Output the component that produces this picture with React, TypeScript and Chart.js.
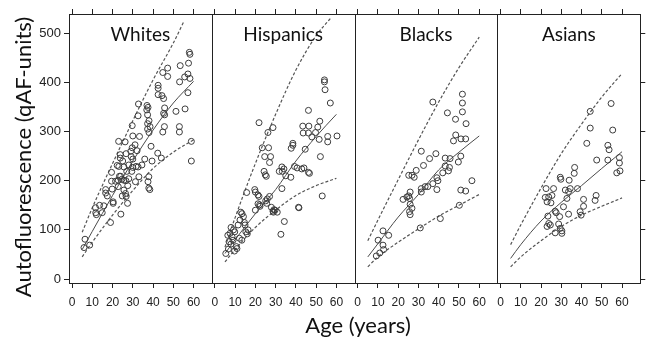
import React, { useEffect, useRef } from "react";
import { Chart, registerables } from "chart.js";

Chart.register(...registerables);

const GROUPS = ["Whites", "Hispanics", "Blacks", "Asians"];
const X_TICKS = [0, 10, 20, 30, 40, 50, 60];
const Y_TICKS = [0, 100, 200, 300, 400, 500];
const Y_TITLE = "Autofluorescence (qAF-units)";
const X_TITLE = "Age (years)";

const WHITES_AGE = [57.9, 58.2, 57.5, 53.4, 47.2, 44.8, 47.2, 57.2, 55.6, 58.2, 53.1, 42.5, 42.5, 42.5, 44.4, 45.2, 45.7, 57.2, 55.8, 51.3, 45.2, 45.7, 32.8, 37.0, 37.5, 36.9, 32.6, 37.3, 38.0, 37.3, 38.5, 37.3, 38.0, 45.6, 53.0, 53.0, 44.8, 29.7, 33.3, 30.0, 23.0, 26.2, 39.0, 42.3, 44.1, 58.9, 58.9, 39.5, 35.9, 31.1, 29.7, 32.1, 29.2, 30.0, 26.7, 23.8, 23.8, 25.0, 22.3, 23.1, 25.6, 28.0, 30.0, 32.6, 19.5, 24.0, 24.6, 25.6, 26.6, 28.0, 31.3, 33.0, 37.9, 37.5, 38.4, 19.5, 21.5, 22.8, 16.6, 16.6, 17.4, 19.8, 22.8, 25.6, 26.4, 24.8, 27.4, 20.3, 20.3, 15.7, 13.6, 11.6, 11.7, 14.9, 12.0, 24.1, 19.0, 6.4, 5.9, 8.7, 29.5, 31.6, 23.4, 26.7, 37.9, 27.0, 29.0, 34.5, 27.5];
const WHITES_QAF = [461, 457, 439, 434, 429, 420, 412, 417, 411, 408, 401, 394, 388, 375, 373, 367, 348, 379, 346, 341, 337, 334, 356, 353, 349, 344, 332, 334, 322, 316, 310, 305, 298, 310, 310, 299, 299, 312, 290, 291, 280, 279, 270, 256, 246, 280, 240, 240, 244, 273, 267, 261, 249, 244, 255, 253, 246, 240, 231, 229, 228, 232, 227, 228, 217, 209, 203, 201, 200, 204, 198, 208, 208, 198, 182, 199, 199, 201, 182, 175, 169, 183, 188, 181, 174, 169, 154, 154, 157, 149, 150, 145, 135, 135, 131, 132, 115, 81, 64, 69, 219, 229, 209, 168, 185, 219, 260, 232, 190];

const HISP_AGE = [54.1, 54.1, 54.4, 57.0, 46.2, 21.8, 28.7, 26.2, 43.4, 46.4, 51.8, 43.6, 46.2, 50.8, 49.7, 47.9, 55.7, 60.3, 51.5, 55.7, 44.6, 38.5, 38.5, 37.7, 23.4, 26.5, 24.6, 27.5, 27.0, 24.3, 24.9, 25.4, 33.1, 34.1, 33.3, 31.8, 35.0, 37.5, 39.3, 40.6, 42.9, 44.0, 46.2, 46.7, 52.1, 53.0, 41.3, 33.1, 34.3, 32.6, 15.7, 19.7, 20.0, 21.8, 21.3, 21.3, 22.1, 25.1, 25.9, 27.0, 27.9, 29.2, 28.7, 30.8, 20.0, 12.8, 13.4, 5.4, 6.7, 6.4, 7.5, 8.5, 9.2, 9.8, 7.0, 7.9, 9.0, 10.6, 10.9, 9.7, 12.1, 13.3, 12.4, 14.1, 14.6, 14.9, 15.3, 16.4, 16.0, 22.3, 25.6, 28.9, 29.7, 41.5, 8.0, 11.5];
const HISP_QAF = [405, 401, 385, 358, 343, 318, 308, 298, 311, 311, 321, 297, 297, 309, 298, 289, 290, 291, 284, 279, 264, 276, 272, 266, 267, 267, 249, 249, 237, 219, 212, 209, 228, 224, 219, 219, 210, 207, 229, 226, 224, 226, 217, 215, 249, 169, 146, 184, 117, 91, 176, 182, 177, 168, 171, 153, 151, 159, 163, 168, 146, 141, 138, 136, 140, 136, 133, 52, 61, 89, 93, 86, 100, 96, 76, 71, 79, 66, 62, 57, 83, 79, 120, 127, 115, 110, 96, 100, 92, 148, 154, 136, 140, 145, 105, 110];

const BLACKS_AGE = [51.7, 51.7, 51.7, 44.3, 48.3, 53.5, 37.1, 48.4, 47.3, 51.0, 53.3, 31.4, 38.6, 35.5, 43.2, 45.6, 43.2, 45.3, 50.9, 49.7, 32.5, 28.9, 25.2, 26.8, 27.9, 42.0, 44.8, 39.1, 37.1, 34.6, 33.3, 31.4, 31.4, 39.6, 39.1, 56.4, 50.9, 53.3, 50.2, 22.4, 24.3, 25.2, 25.6, 25.9, 25.9, 26.8, 25.6, 25.9, 40.8, 30.9, 12.5, 15.3, 10.1, 12.5, 12.8, 10.9, 9.2];
const BLACKS_QAF = [376, 358, 340, 338, 325, 316, 360, 293, 281, 285, 285, 260, 255, 245, 246, 245, 230, 227, 250, 238, 231, 221, 211, 211, 207, 216, 220, 206, 194, 188, 188, 184, 177, 200, 182, 200, 181, 179, 150, 162, 167, 169, 164, 177, 152, 144, 137, 131, 123, 104, 98, 89, 79, 69, 60, 53, 47];

const ASIANS_AGE = [54.6, 44.3, 44.3, 55.4, 42.6, 53.0, 53.6, 47.5, 53.0, 58.7, 58.7, 57.4, 59.0, 36.6, 36.4, 29.5, 29.8, 33.9, 22.5, 26.2, 32.0, 34.4, 33.6, 38.0, 22.1, 25.4, 23.8, 23.0, 24.9, 32.8, 41.0, 47.2, 46.7, 31.1, 41.0, 27.0, 27.5, 39.3, 39.8, 23.4, 29.2, 33.6, 23.8, 24.6, 23.0, 28.7, 29.5, 27.0, 30.3, 30.3];
const ASIANS_QAF = [357, 341, 307, 303, 276, 272, 263, 242, 242, 247, 236, 216, 220, 227, 215, 207, 203, 201, 184, 184, 181, 184, 178, 184, 166, 170, 167, 157, 155, 164, 162, 170, 160, 147, 148, 138, 135, 137, 130, 128, 127, 132, 113, 110, 107, 112, 103, 94, 98, 93];

const CURVE_AGE = [5, 10, 20, 30, 40, 50, 60];
const WHITES_MID = [60, 97, 170, 240, 303, 358, 402];
const WHITES_LOW = [45, 75, 130, 180, 225, 258, 283];
const WHITES_HIGH_AGE = [5, 10, 20, 30, 40, 50, 55];
const WHITES_HIGH = [95, 145, 235, 322, 405, 480, 522];
const HISP_MID = [52, 80, 133, 182, 240, 290, 335];
const HISP_LOW = [35, 60, 105, 140, 170, 190, 205];
const HISP_HIGH_AGE = [5, 10, 20, 30, 40, 50, 57];
const HISP_HIGH = [65, 125, 235, 335, 425, 495, 530];
const BLACKS_MID = [45, 72, 126, 172, 222, 258, 291];
const BLACKS_LOW = [25, 45, 75, 102, 128, 150, 172];
const BLACKS_HIGH = [78, 120, 202, 283, 360, 430, 492];
const ASIANS_MID = [42, 70, 118, 156, 190, 225, 259];
const ASIANS_LOW = [25, 45, 78, 107, 130, 148, 165];
const ASIANS_HIGH = [70, 110, 185, 255, 315, 370, 418];

const TEXT_FONT = "Lato, 'Open Sans', sans-serif";
const TICK_FONT = "'Liberation Sans', Arial, sans-serif";

const pts = (xs: number[], ys: number[]) => xs.map((x, i) => ({ x, y: ys[i] }));

export default function App() {
  const ref = useRef<HTMLCanvasElement | null>(null);

  useEffect(() => {
    if (!ref.current) return;
    const panels = [
      { name: GROUPS[0], age: WHITES_AGE, qaf: WHITES_QAF, mid: WHITES_MID, low: WHITES_LOW, highAge: WHITES_HIGH_AGE, high: WHITES_HIGH },
      { name: GROUPS[1], age: HISP_AGE, qaf: HISP_QAF, mid: HISP_MID, low: HISP_LOW, highAge: HISP_HIGH_AGE, high: HISP_HIGH },
      { name: GROUPS[2], age: BLACKS_AGE, qaf: BLACKS_QAF, mid: BLACKS_MID, low: BLACKS_LOW, highAge: CURVE_AGE, high: BLACKS_HIGH },
      { name: GROUPS[3], age: ASIANS_AGE, qaf: ASIANS_QAF, mid: ASIANS_MID, low: ASIANS_LOW, highAge: CURVE_AGE, high: ASIANS_HIGH },
    ];
    const datasets: any[] = [];
    const scales: any = {
      y: {
        type: "linear", position: "left", min: -8, max: 539,
        afterBuildTicks: (s: any) => { s.ticks = Y_TICKS.map((v) => ({ value: v })); },
        afterFit: (s: any) => { s.width = 69; },
        ticks: { font: { family: TICK_FONT, size: 13 }, color: "#222", padding: 3 },
        grid: { drawOnChartArea: false, drawTicks: true, tickLength: 5, color: "#222" },
        border: { display: true, color: "#222", width: 1 },
      },
      yr: {
        type: "linear", position: "right", min: -8, max: 539,
        afterBuildTicks: (s: any) => { s.ticks = Y_TICKS.map((v) => ({ value: v })); },
        afterFit: (s: any) => { s.width = 7; },
        ticks: { display: false },
        grid: { drawOnChartArea: false, drawTicks: true, tickLength: 5, color: "#222" },
        border: { display: true, color: "#222", width: 1 },
      },
    };
    panels.forEach((p, i) => {
      const xid = "x" + i;
      datasets.push({
        label: p.name, data: pts(p.age, p.qaf), xAxisID: xid, yAxisID: "y",
        showLine: false, pointRadius: 3, pointBorderWidth: 1,
        borderColor: "#3c3c3c", backgroundColor: "rgba(0,0,0,0)",
        pointBorderColor: "#3c3c3c", pointBackgroundColor: "rgba(0,0,0,0)",
      });
      datasets.push({
        label: p.name + " fit", data: pts(CURVE_AGE, p.mid), xAxisID: xid, yAxisID: "y",
        showLine: true, pointRadius: 0, borderColor: "#4a4a4a", borderWidth: 1,
        cubicInterpolationMode: "monotone",
      });
      datasets.push({
        label: p.name + " low", data: pts(CURVE_AGE, p.low), xAxisID: xid, yAxisID: "y",
        showLine: true, pointRadius: 0, borderColor: "#555", borderWidth: 1.2,
        borderDash: [3, 2], cubicInterpolationMode: "monotone",
      });
      datasets.push({
        label: p.name + " high", data: pts(p.highAge, p.high), xAxisID: xid, yAxisID: "y",
        showLine: true, pointRadius: 0, borderColor: "#555", borderWidth: 1.2,
        borderDash: [3, 2], cubicInterpolationMode: "monotone",
      });
      scales[xid] = {
        type: "linear", position: "bottom", stack: "bottom", stackWeight: 1,
        min: -1.5, max: 69,
        afterBuildTicks: (s: any) => { s.ticks = X_TICKS.map((v) => ({ value: v })); },
        afterFit: (s: any) => { s.height = 58; },
        ticks: { font: { family: TICK_FONT, size: 12 }, color: "#222", padding: 7, maxRotation: 0, autoSkip: false },
        grid: { drawOnChartArea: false, drawTicks: true, tickLength: 5, color: "#222" },
        border: { display: true, color: "#222", width: 1 },
      };
      scales["xt" + i] = {
        type: "linear", position: "top", stack: "top", stackWeight: 1,
        min: -1.5, max: 69,
        afterBuildTicks: (s: any) => { s.ticks = X_TICKS.map((v) => ({ value: v })); },
        afterFit: (s: any) => { s.height = 14; },
        ticks: { display: false },
        grid: { drawOnChartArea: false, drawTicks: true, tickLength: 5, color: "#222" },
        border: { display: true, color: "#222", width: 1 },
      };
    });

    const frameAndText = {
      id: "frameAndText",
      afterDraw(chart: any) {
        const { ctx, chartArea } = chart;
        ctx.save();
        ctx.strokeStyle = "#222";
        ctx.lineWidth = 1;
        for (let i = 1; i < 4; i++) {
          const x = Math.round(chart.scales["x" + i].left) + 0.5;
          ctx.beginPath();
          ctx.moveTo(x, chartArea.top);
          ctx.lineTo(x, chartArea.bottom);
          ctx.stroke();
        }
        ctx.fillStyle = "#111";
        ctx.textAlign = "center";
        ctx.textBaseline = "middle";
        ctx.font = `19px ${TEXT_FONT}`;
        for (let i = 0; i < 4; i++) {
          const s = chart.scales["x" + i];
          ctx.fillText(GROUPS[i], (s.left + s.right) / 2, 35);
        }
        ctx.font = `22px ${TEXT_FONT}`;
        ctx.fillText(X_TITLE, 358, 326);
        ctx.translate(24, 157);
        ctx.rotate(-Math.PI / 2);
        ctx.fillText(Y_TITLE, 0, 0);
        ctx.restore();
      },
    };

    const chart = new Chart(ref.current, {
      type: "scatter",
      data: { datasets },
      options: {
        animation: false,
        responsive: false,
        devicePixelRatio: 1,
        events: [],
        layout: { padding: 0 },
        plugins: { legend: { display: false }, tooltip: { enabled: false }, title: { display: false } },
        scales,
      } as any,
      plugins: [frameAndText],
    });
    return () => chart.destroy();
  }, []);

  return (
    <div style={{ position: "fixed", left: 0, top: 0, width: 650, height: 341, background: "#fff" }}>
      <canvas ref={ref} width={650} height={341} style={{ width: 650, height: 341, display: "block" }} />
    </div>
  );
}
